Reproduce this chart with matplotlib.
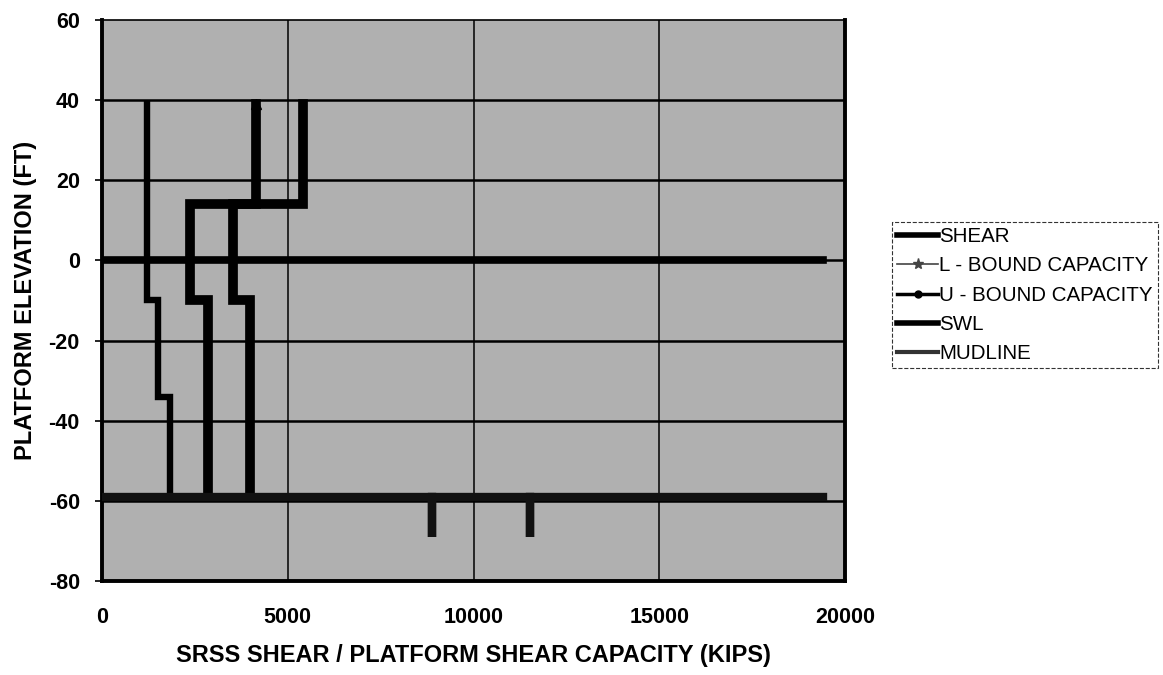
import matplotlib
matplotlib.use("Agg")
import matplotlib.pyplot as plt
from matplotlib.lines import Line2D

# Datos: cortante y capacidades por elevación
shear_x = [1200, 1200, 1500, 1500, 1830, 1830]
shear_y = [39, -10, -10, -34, -34, -59]

lb_x = [4150, 4150, 2370, 2370, 2860, 2860]
lb_y = [39, 14, 14, -10, -10, -59]

ub_x = [5420, 5420, 3530, 3530, 3980, 3980]
ub_y = [39, 14, 14, -10, -10, -59]

swl_x = [0, 19400]
swl_y = [0, 0]

mud_x = [0, 8870, 8870, 8870, 11520, 11520, 11520, 19400]
mud_y = [-59, -59, -69, -59, -59, -69, -59, -59]

x_ticks = [0, 5000, 10000, 15000, 20000]
y_ticks = [-80, -60, -40, -20, 0, 20, 40, 60]

plt.rcParams["font.family"] = ["Liberation Sans", "DejaVu Sans"]
plt.rcParams["axes.unicode_minus"] = False

fig = plt.figure(figsize=(11.63, 6.75), dpi=100)
ax = fig.add_axes([0.0877, 0.1393, 0.639, 0.8311])
ax.set_facecolor("#b0b0b0")

# Rejilla
for xv in x_ticks[1:-1]:
    ax.axvline(xv, color="black", lw=1.1, zorder=1)
for yv in y_ticks[1:-1]:
    ax.axhline(yv, color="black", lw=1.8, zorder=1)

ax.plot(shear_x, shear_y, color="black", lw=4.6, solid_joinstyle="miter", zorder=3)
ax.plot(lb_x, lb_y, color="black", lw=7, solid_joinstyle="miter", zorder=3)
ax.plot(lb_x[:1], lb_y[:1], "^", color="black", ms=7, zorder=3)
ax.plot(ub_x, ub_y, color="black", lw=7, solid_joinstyle="miter", zorder=3)
ax.plot(swl_x, swl_y, color="black", lw=5.5, zorder=3)
ax.plot(mud_x, mud_y, color="#111111", lw=6, solid_joinstyle="miter", zorder=3)

ax.set_xlim(0, 20000)
ax.set_ylim(-80, 60)
ax.set_xticks(x_ticks)
ax.set_yticks(y_ticks)
ax.tick_params(axis="x", length=0, pad=19, labelsize=15.5)
ax.tick_params(axis="y", length=5, width=1.2, pad=11, labelsize=15.5)
for lbl in ax.get_xticklabels() + ax.get_yticklabels():
    lbl.set_fontweight("bold")

for side in ["left", "bottom", "right"]:
    ax.spines[side].set_linewidth(2.8)
ax.spines["top"].set_linewidth(1.2)

ax.set_xlabel("SRSS SHEAR / PLATFORM SHEAR CAPACITY (KIPS)", fontsize=17,
              fontweight="bold", labelpad=11)
ax.set_ylabel("PLATFORM ELEVATION (FT)", fontsize=17, fontweight="bold", labelpad=8)

# Leyenda
handles = [
    Line2D([], [], color="black", lw=4),
    Line2D([], [], color="#444444", lw=1.2, marker="*", ms=8),
    Line2D([], [], color="black", lw=2.5, marker="o", ms=5),
    Line2D([], [], color="black", lw=4),
    Line2D([], [], color="#333333", lw=3),
]
labels = ["SHEAR", "L - BOUND CAPACITY", "U - BOUND CAPACITY", "SWL", "MUDLINE"]
leg = fig.legend(handles, labels, loc="upper left", bbox_to_anchor=(0.767, 0.671),
                 fontsize=14.8, frameon=True, fancybox=False, handlelength=2.0,
                 handletextpad=0.05, labelspacing=0.5, borderpad=0.25,
                 borderaxespad=0)
leg.get_frame().set_edgecolor("black")
leg.get_frame().set_linewidth(0.8)
leg.get_frame().set_linestyle("--")

fig.savefig("out.png", dpi=100)
